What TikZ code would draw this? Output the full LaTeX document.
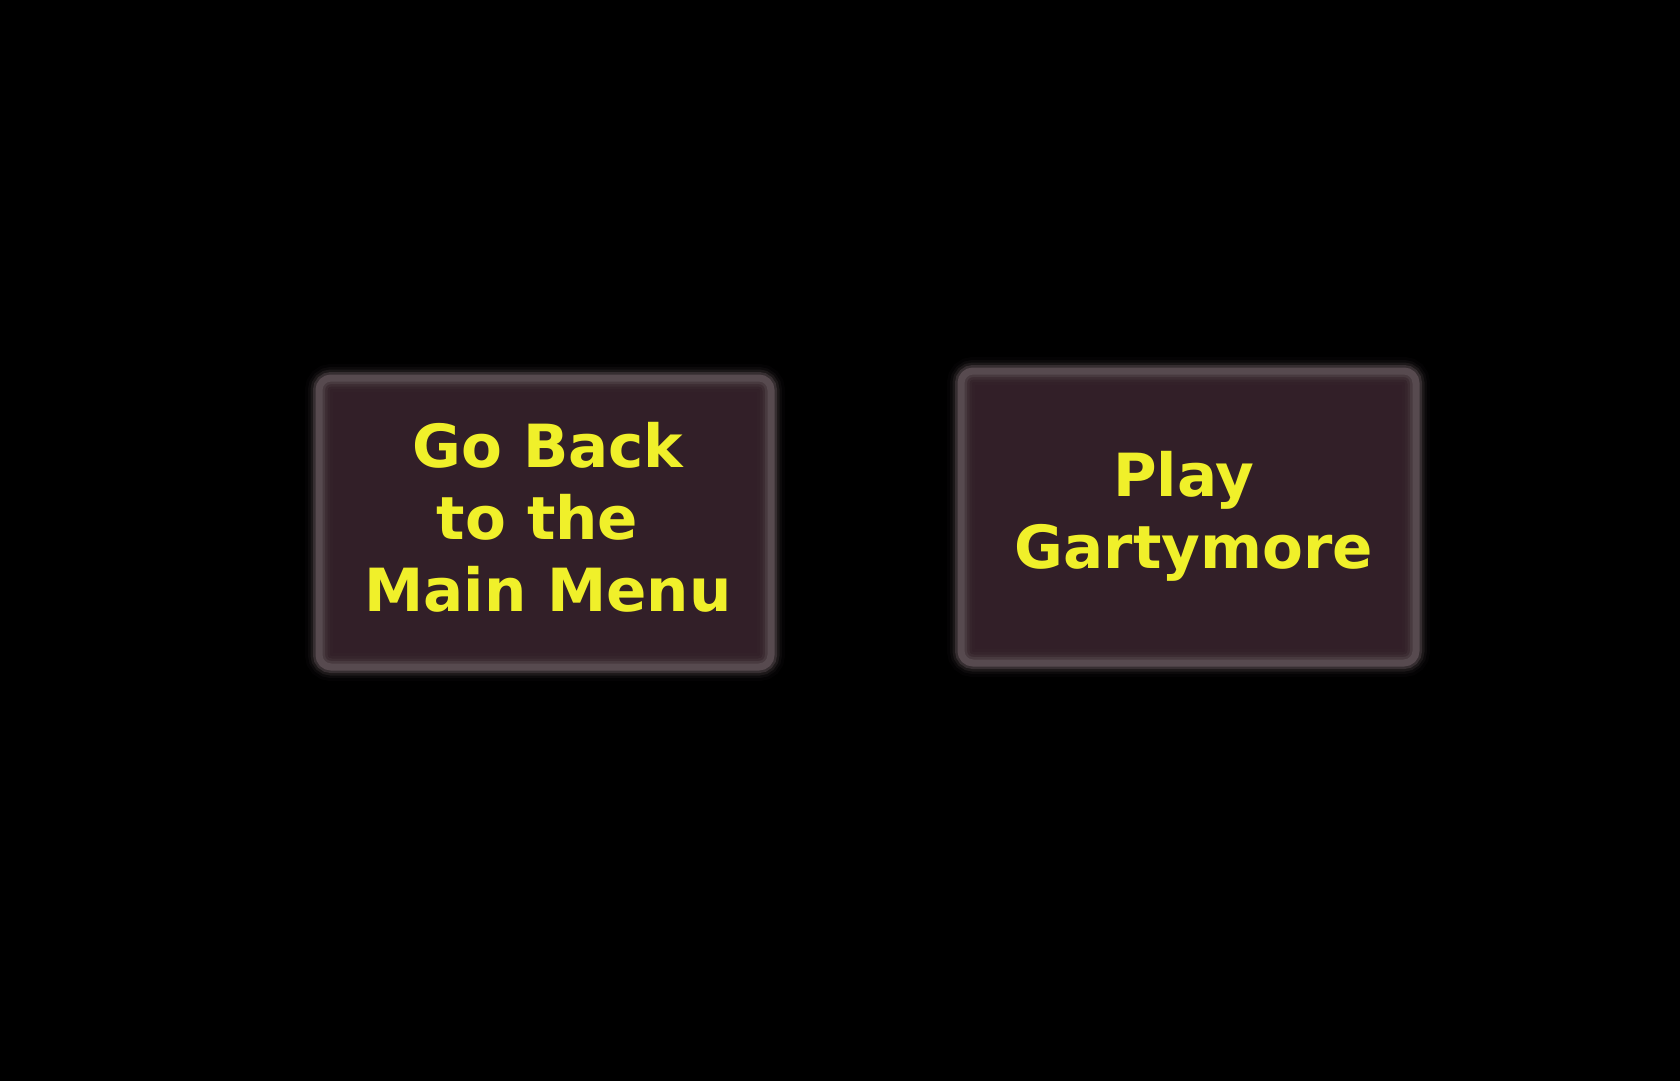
\documentclass[tikz,border=0pt]{standalone}
\usepackage{fontspec}
\setmainfont{DejaVu Sans}
\definecolor{bgblack}{HTML}{000000}
\definecolor{btnfill}{HTML}{321F28}
\definecolor{btnedge}{HTML}{574A4F}
\definecolor{btntext}{HTML}{F0F02A}
\tikzset{
  btn/.style={rectangle, rounded corners=12pt, fill=btnfill, inner sep=0pt,
    postaction={draw=btnedge, line width=28pt, opacity=0.05},
    postaction={draw=btnedge, line width=22pt, opacity=0.10},
    postaction={draw=btnedge, line width=17pt, opacity=0.22},
    postaction={draw=btnedge, line width=12pt, opacity=0.45},
    postaction={draw=btnedge, line width=7pt}},
  btnlabel/.style={text=btntext, font=\fontsize{59.5pt}{72pt}\selectfont\bfseries,
    align=center, inner sep=0pt, anchor=base}
}
\begin{document}
\begin{tikzpicture}[x=1pt,y=-1pt]
\useasboundingbox (0,0) rectangle (1680,1080);
\fill[bgblack] (-3,-3) rectangle (1683,1083);
\node[btn, minimum width=452pt, minimum height=289pt] (back) at (545,522.5) {};
\node[btn, minimum width=455pt, minimum height=292pt] (play) at (1188.5,517) {};
\node[btnlabel] (backlabel) at (548,611) {Go Back\\to the\kern0.35em\\Main Menu};
\node[btnlabel] (playlabel) at (1194,568) {Play\kern0.35em\\Gartymore};
\end{tikzpicture}
\end{document}
